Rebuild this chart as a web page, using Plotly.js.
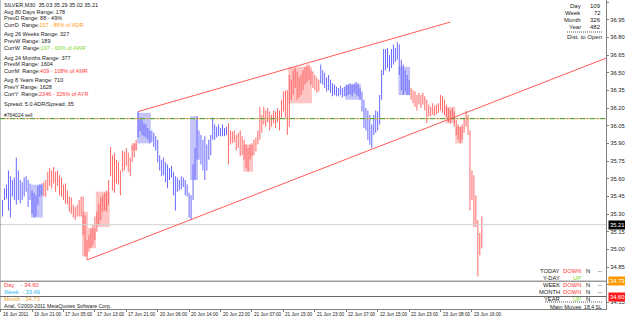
<!DOCTYPE html>
<html><head><meta charset="utf-8">
<script src="https://cdn.plot.ly/plotly-3.0.1.min.js"></script>
<style>html,body{margin:0;padding:0;background:#fff;}</style>
</head><body><div id="chart" style="width:625px;height:319px;"></div>
<script>
// ---------------- data (SILVER, M30) ----------------
const firstBarIndex = 1;
const barHigh = [
35.42,35.52,35.55,35.67,35.62,35.59,35.61,35.78,35.67,35.59,35.57,35.61,35.62,35.59,35.56,35.50,35.48,35.46,35.54,35.55,35.56,
35.57,35.59,35.66,35.69,35.67,35.70,35.66,35.67,35.63,35.61,35.55,35.56,35.50,35.45,35.44,35.38,35.36,35.38,35.42,35.45,35.45,
35.29,35.08,35.12,35.18,35.21,35.28,35.32,35.39,35.44,35.46,35.48,35.50,35.59,
35.87,35.80,35.82,35.76,35.74,35.67,35.84,35.83,35.86,35.82,35.78,35.88,35.90,35.93,
36.17,36.12,36.10,36.07,36.06,36.03,36.01,36.01,35.99,35.96,35.93,35.80,35.76,35.78,35.74,35.72,35.69,35.71,35.66,35.62,35.61,35.59,35.62,35.61,35.59,35.55,35.48,35.46,35.72,35.86,36.13,36.01,35.97,35.93,35.96,35.89,35.93,35.97,36.12,36.06,36.04,36.06,36.03,36.06,36.03,36.04,
36.07,36.01,36.00,36.01,35.97,35.99,36.01,35.96,35.93,35.89,35.86,35.89,35.90,35.93,35.95,36.01,36.21,36.14,36.21,36.18,36.20,36.17,36.14,36.18,36.17,36.20,36.18,36.27,36.34,36.35,36.35,36.48,36.44,36.52,36.54,36.51,36.46,36.48,36.52,36.55,36.57,36.57,36.52,36.51,36.48,36.46,36.44,
36.57,36.52,36.50,36.46,36.48,36.44,36.41,36.40,36.38,36.37,36.39,36.37,36.38,36.39,36.40,36.41,36.40,36.41,36.42,36.41,36.37,36.34,36.27,36.20,36.18,36.14,36.06,36.14,36.18,36.17,36.31,36.52,36.70,36.70,36.71,36.65,36.70,36.74,36.71,36.76,36.74,36.61,36.57,36.52,36.48,36.44,
36.37,36.35,36.34,36.31,36.33,36.31,36.33,36.30,36.27,36.23,36.21,36.24,36.22,36.23,36.24,36.31,36.30,36.27,36.23,36.20,36.18,36.20,36.17,36.10,36.06,36.04,36.06,36.12,36.18,36.14,36.01,35.67,35.63,35.46,35.25,35.14,35.28
];
const barLow = [
35.28,35.42,35.43,35.33,35.27,35.45,35.42,35.38,35.42,35.39,35.42,35.45,35.49,35.36,35.42,35.30,35.27,35.28,35.38,35.45,35.46,
35.45,35.45,35.50,35.54,35.52,35.56,35.49,35.54,35.46,35.45,35.42,35.39,35.38,35.32,35.30,35.27,35.25,35.28,35.28,35.28,35.12,
34.94,34.91,34.98,35.01,35.04,35.08,35.15,35.21,35.25,35.32,35.33,35.32,35.38,
35.62,35.50,35.48,35.56,35.55,35.46,35.66,35.67,35.71,35.66,35.62,35.74,35.78,35.84,
35.95,36.00,35.97,35.96,35.95,35.93,35.90,35.91,35.87,35.84,35.74,35.67,35.62,35.63,35.57,35.52,35.59,35.61,35.46,35.33,35.49,35.50,35.51,35.53,35.46,35.45,35.27,35.25,35.42,35.59,35.76,35.76,35.72,35.67,35.59,35.67,35.76,35.80,35.93,35.93,35.95,35.96,35.96,35.96,35.96,35.97,
35.72,35.89,35.90,35.91,35.84,35.86,35.79,35.80,35.76,35.69,35.66,35.76,35.79,35.80,35.83,35.89,35.93,35.99,36.06,36.04,36.08,36.01,36.04,36.07,36.03,36.08,36.01,36.12,36.17,36.12,35.97,36.04,36.27,36.31,36.37,36.27,36.29,36.31,36.35,36.40,36.42,36.44,36.40,36.37,36.35,36.33,36.34,
36.41,36.40,36.37,36.34,36.35,36.33,36.30,36.31,36.30,36.30,36.31,36.29,36.30,36.30,36.31,36.32,36.30,36.33,36.31,36.30,36.27,36.17,36.03,36.01,35.93,35.89,35.86,35.97,35.99,36.01,36.06,36.27,36.48,36.52,36.54,36.51,36.54,36.57,36.59,36.61,36.48,36.35,36.31,36.34,36.31,36.31,
36.27,36.24,36.21,36.18,36.23,36.20,36.23,36.18,36.07,36.13,36.13,36.14,36.13,36.15,36.16,36.18,36.16,36.14,36.12,36.08,36.07,36.10,36.04,35.97,35.93,35.90,35.93,35.99,36.04,35.97,35.33,35.42,35.19,35.19,34.77,34.95,35.01
];
// swings: bar index where each coloured swing ends
const swingEnd    = [21, 69, 115, 162, 208, 245];
const swingColour = ['blue','red','blue','red','blue','red'];
// shaded boxes (bar ranges with price extents)
const boxFrom   = [16, 42, 45, 49, 67, 70, 97, 124, 147, 176, 203, 227, 232];
const boxTo     = [21, 44, 48, 55, 69, 76, 100, 128, 158, 183, 208, 231, 235];
const boxHigh   = [35.55,35.32,35.18,35.49,35.90,36.16,36.13,35.89,36.55,36.40,36.55,36.21,36.04];
const boxLow    = [35.27,34.94,35.01,35.19,35.84,35.90,35.59,35.66,36.24,36.27,36.31,36.07,35.90];
const boxColour = ['blue','red','red','red','red','blue','blue','red','red','blue','blue','red','red'];
// trend channel anchors
const upperBars = [70, 229], upperPrices = [36.17, 36.93];
const lowerBars = [44, 189], lowerPrices = [34.91, 35.85];
// levels
const sellLevel = 36.11, bidPrice = 35.21, dayLevel = 34.60, monthLevel = 34.73, weekLevel = 33.49;
// axis ticks
const timeTickBars = [0,16,32,48,64,80,96,112,128,144,160,176,192,208,224,240];
const timeTickLabels = ['16 Jun 2011','16 Jun 21:00','17 Jun 05:00','17 Jun 13:00','17 Jun 21:00','20 Jun 06:00','20 Jun 14:00','20 Jun 22:00','21 Jun 07:00','21 Jun 15:00','21 Jun 23:00','22 Jun 07:00','22 Jun 15:00','22 Jun 23:00','23 Jun 08:00','23 Jun 16:00'];
const priceTicks = [34.55,34.70,34.85,35.00,35.15,35.30,35.45,35.60,35.75,35.90,36.05,36.20,36.35,36.50,36.65,36.80,36.95,37.10];

// ---------------- drawing ----------------
const FONT = 'Liberation Sans, Arial, sans-serif';
const barCol = {blue:'#6666ff', red:'#ff6464'};
const boxCol = {blue:'#c4c4fb', red:'#ffc4c4'};
const PW = 606, PH = 309;
const xRange = [-0.306, 308.25];
const yRange = [34.494, 37.117];

function colourOf(i){ for(let s=0;s<swingEnd.length;s++){ if(i<=swingEnd[s]) return swingColour[s]; } return swingColour[swingColour.length-1]; }

const traces = [];
['blue','red'].forEach(c=>{
  const x=[],b=[],y=[],w=[];
  boxFrom.forEach((f,k)=>{ if(boxColour[k]!==c) return; x.push((f+boxTo[k])/2); w.push(boxTo[k]-f+1); b.push(boxLow[k]); y.push(boxHigh[k]-boxLow[k]); });
  traces.push({type:'bar',x:x,base:b,y:y,width:w,marker:{color:boxCol[c],line:{width:0}},hoverinfo:'skip'});
});
['blue','red'].forEach(c=>{
  const x=[],b=[],y=[];
  barHigh.forEach((h,k)=>{ const i=firstBarIndex+k; if(colourOf(i)!==c) return; x.push(i); b.push(barLow[k]); y.push(h-barLow[k]); });
  traces.push({type:'bar',x:x,base:b,y:y,width:0.5,marker:{color:barCol[c],line:{width:0}},hoverinfo:'skip'});
});

const lowSlope = (lowerPrices[1]-lowerPrices[0])/(lowerBars[1]-lowerBars[0]);
const shapes = [
  {type:'line',xref:'paper',yref:'y',x0:0,x1:1,y0:sellLevel,y1:sellLevel,line:{color:'#f7a868',width:1}},
  {type:'line',xref:'paper',yref:'y',x0:0,x1:1,y0:sellLevel,y1:sellLevel,line:{color:'#3aa83a',width:1,dash:'5px,2px,1px,2px'}},
  {type:'line',xref:'paper',yref:'y',x0:0,x1:1,y0:bidPrice,y1:bidPrice,line:{color:'#d2d2d2',width:1}},
  {type:'line',xref:'paper',yref:'y',x0:0,x1:1,y0:monthLevel,y1:monthLevel,line:{color:'#6a6a6a',width:1}},
  {type:'line',xref:'paper',yref:'y',x0:0,x1:1,y0:dayLevel,y1:dayLevel,line:{color:'#6a6a6a',width:1}},
  {type:'line',xref:'x',yref:'y',x0:upperBars[0],y0:upperPrices[0],x1:upperBars[1],y1:upperPrices[1],line:{color:'#ff5a5a',width:1}},
  {type:'line',xref:'x',yref:'y',x0:lowerBars[0],y0:lowerPrices[0],x1:xRange[1],y1:lowerPrices[0]+lowSlope*(xRange[1]-lowerBars[0]),line:{color:'#ff5a5a',width:1}},
  {type:'line',xref:'paper',yref:'paper',x0:0,x1:0,y0:0,y1:1,line:{color:'#808080',width:1}},
  {type:'line',xref:'paper',yref:'paper',x0:567/PW,x1:603/PW,y0:1-32/PH,y1:1-32/PH,line:{color:'#555',width:1,dash:'1px,1px'}},
  {type:'line',xref:'paper',yref:'paper',x0:545/PW,x1:603/PW,y0:1-302/PH,y1:1-302/PH,line:{color:'#555',width:1,dash:'1px,1px'}}
];

const ann = [];
function T(px,py,text,opts){
  opts=opts||{};
  ann.push({xref:'paper',yref:'paper',x:px/PW,y:1-py/PH,text:text,showarrow:false,
    xanchor:opts.anchor||'left',yanchor:'middle',borderpad:0,
    font:{family:FONT,size:opts.size||5.5,color:opts.color||'#1a1a1a'}});
}
const OR='#ff9f1a', GR='#7fd82a', RD='#ff3b3b';
T(3,5,'SILVER,M30  35.03 35.29 35.02 35.21');
T(3,11.5,'Avg 80 Days Range: 178');
T(3,18,'PrevD Range: 88 - 49%');
T(3,24.5,'CurrD  Range:<span style="color:'+OR+'">157 - 88% of ADR</span>');
T(3,34.5,'Avg 26 Weeks Range: 327');
T(3,41,'PrevW Range: 189');
T(3,47.5,'CurrW  Range:<span style="color:'+GR+'">197 - 60% of AWR</span>');
T(3,57.5,'Avg 24 Months Range: 377');
T(3,64,'PrevM Range: 1604');
T(3,70.5,'CurrM  Range:<span style="color:'+RD+'">409 - 108% of AMR</span>');
T(3,80.5,'Avg 8 Years Range: 710');
T(3,87,'PrevY Range: 1628');
T(3,93.5,'CurrY  Range:<span style="color:'+RD+'">2346 - 326% of AYR</span>');
T(3,103.5,'Spread: 5.0 ADR/Spread: 35');
T(3,115,'#764024 sell',{size:5});
// right top table
[['Day','109',6],['Week','72',13],['Month','326',20],['Year','482',27]].forEach(r=>{
  T(582,r[2],r[0],{anchor:'right',size:6}); T(602,r[2],r[1],{anchor:'right',size:6});
});
T(603,37,'Dist. to Open',{anchor:'right',size:6});
// bottom right table
[['TODAY','DOWN',RD,'N','--',271],['Y-DAY','UP',GR,'','',278],['WEEK','DOWN',RD,'N','--',285],['MONTH','DOWN',RD,'N','--',292],['YEAR','UP',GR,'N','',299]].forEach(r=>{
  T(561,r[5],r[0],{anchor:'right',size:5.8});
  T(582,r[5],r[1],{anchor:'right',size:5.8,color:r[2]});
  if(r[3]) T(588,r[5],r[3],{anchor:'center',size:5.8});
  if(r[4]) T(600,r[5],r[4],{anchor:'center',size:5.8});
});
T(582,307,'Main Moves',{anchor:'right',size:5.8});
T(603,307,'18.4 SL',{anchor:'right',size:5.2});
// bottom left
T(3,285,'Day    - '+dayLevel.toFixed(2),{color:'#ff3b3b',size:5.8});
T(3,291.5,'Week  - '+weekLevel.toFixed(2),{color:'#2fb8f0',size:5.8});
T(3,298.5,'Month - '+monthLevel.toFixed(2),{color:'#f0a020',size:5.8});
T(3,305.5,'Arial, ©2000-2011 MetaQuotes Software Corp.',{size:5.2});
// time labels (to the right of their ticks, MT4 style)
timeTickBars.forEach((b,k)=>{
  ann.push({xref:'x',yref:'paper',x:b,y:1-314/PH,xanchor:'left',yanchor:'middle',xshift:1,showarrow:false,borderpad:0,
    text:timeTickLabels[k],font:{family:FONT,size:4.7,color:'#222'}});
});
// price boxes on axis
[[bidPrice,'#000000'],[monthLevel,'#ff9900'],[dayLevel,'#ff1a1a']].forEach(p=>{
  ann.push({xref:'paper',yref:'y',x:1,y:p[0],xanchor:'left',yanchor:'middle',xshift:2,showarrow:false,
    text:p[0].toFixed(2),bgcolor:p[1],borderpad:1,font:{family:FONT,size:5.8,color:'#fff'}});
});

const layout = {
  width:625,height:319,margin:{l:0,r:19,t:0,b:10,pad:0},
  paper_bgcolor:'#fff',plot_bgcolor:'#fff',showlegend:false,barmode:'overlay',
  xaxis:{range:xRange,tickvals:timeTickBars,showticklabels:false,ticks:'outside',ticklen:2,tickcolor:'#808080',
    showline:true,linecolor:'#808080',linewidth:1,showgrid:false,zeroline:false,fixedrange:true},
  yaxis:{range:yRange,side:'right',tickvals:priceTicks,ticktext:priceTicks.map(v=>Math.abs(v-monthLevel)<0.05?'':v.toFixed(2)),ticks:'outside',ticklen:2,
    tickcolor:'#808080',showline:true,linecolor:'#808080',linewidth:1,showgrid:false,zeroline:false,fixedrange:true,
    tickfont:{family:FONT,size:5.8,color:'#222'}},
  shapes:shapes,annotations:ann
};
Plotly.newPlot('chart',traces,layout,{staticPlot:true,displayModeBar:false});
</script></body></html>
